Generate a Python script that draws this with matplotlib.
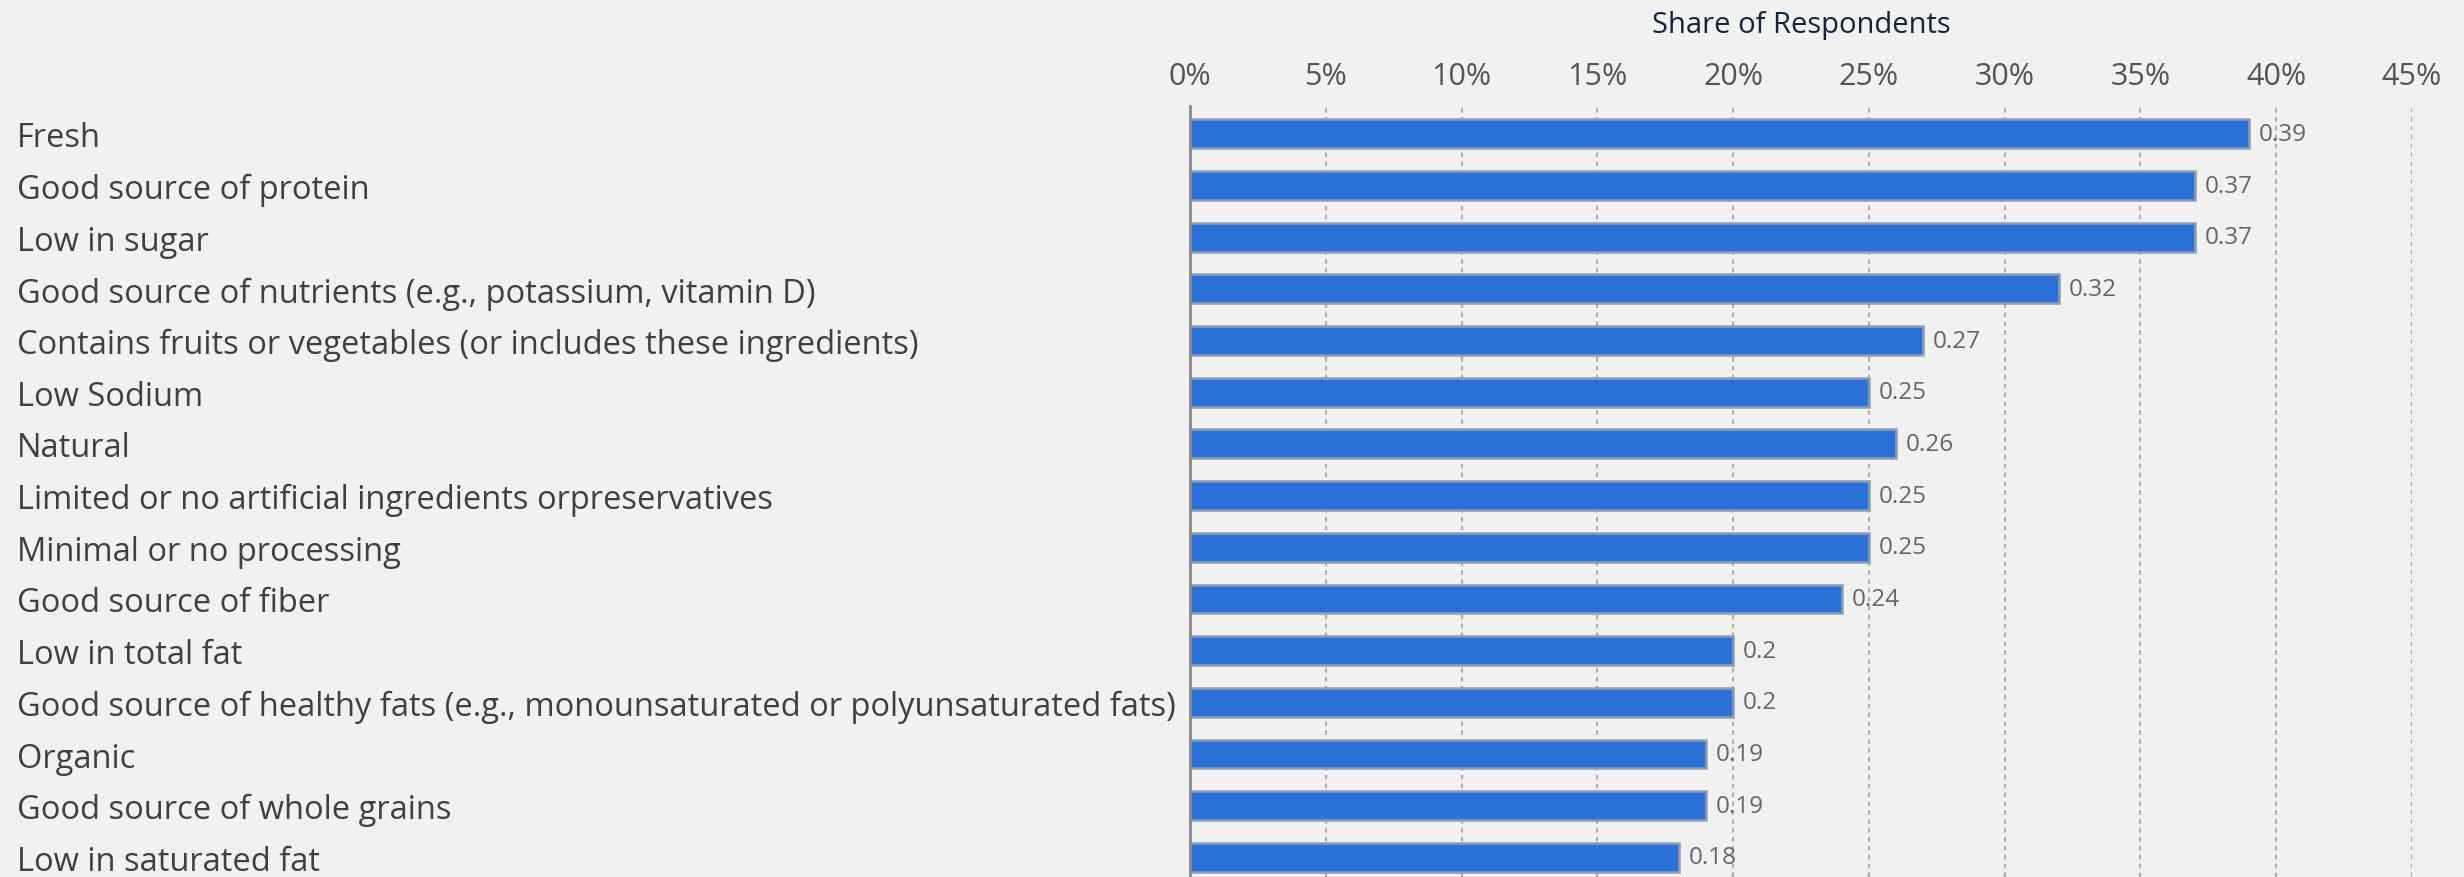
import matplotlib.pyplot as plt

categories = [
    "Fresh",
    "Good source of protein",
    "Low in sugar",
    "Good source of nutrients (e.g., potassium, vitamin D)",
    "Contains fruits or vegetables (or includes these ingredients)",
    "Low Sodium",
    "Natural",
    "Limited or no artificial ingredients orpreservatives",
    "Minimal or no processing",
    "Good source of fiber",
    "Low in total fat",
    "Good source of healthy fats (e.g., monounsaturated or polyunsaturated fats)",
    "Organic",
    "Good source of whole grains",
    "Low in saturated fat",
]
shares = [0.39, 0.37, 0.37, 0.32, 0.27, 0.25, 0.26, 0.25, 0.25, 0.24,
          0.2, 0.2, 0.19, 0.19, 0.18]
value_labels = ["0.39", "0.37", "0.37", "0.32", "0.27", "0.25", "0.26", "0.25",
                "0.25", "0.24", "0.2", "0.2", "0.19", "0.19", "0.18"]
xticks = [0, 0.05, 0.10, 0.15, 0.20, 0.25, 0.30, 0.35, 0.40, 0.45]
xtick_labels = ["0%", "5%", "10%", "15%", "20%", "25%", "30%", "35%", "40%", "45%"]

plt.rcParams["font.family"] = ["Open Sans", "DejaVu Sans"]
bg = "#f1f1f1"

W, H, DPI = 2464, 878, 100
fig = plt.figure(figsize=(W / DPI, H / DPI), dpi=DPI, facecolor=bg)
left_px, right_px, top_px = 1190, 2412, 107
ax = fig.add_axes([left_px / W, 0, (right_px - left_px) / W, 1 - top_px / H])
ax.set_facecolor(bg)

ypos = list(range(len(categories)))
ax.barh(ypos, shares, height=0.56, color="#2a72d9", edgecolor="#8d9db3",
        linewidth=1.8, zorder=3)

for y, v, lab in zip(ypos, shares, value_labels):
    ax.annotate(lab, (v, y), xytext=(7, 0), textcoords="offset points",
                va="center", ha="left", fontsize=17.5, color="#666666", zorder=4)

ax.set_xlim(0, 0.45)
ax.set_ylim(14.38, -0.54)

ax.xaxis.tick_top()
ax.set_xticks(xticks)
ax.set_xticklabels(xtick_labels, fontsize=22, color="#555555")
ax.tick_params(axis="x", length=0, pad=11)

ax.set_yticks(ypos)
ax.set_yticklabels(categories, fontsize=23.5, color="#404040", ha="left")
pad_pt = (left_px - 17) * 72 / DPI
ax.tick_params(axis="y", length=0, pad=pad_pt)

ax.xaxis.set_label_position("top")
ax.set_xlabel("Share of Respondents", fontsize=21, color="#10243f", labelpad=21)

ax.grid(axis="x", color="#b0b0b0", linestyle=(0, (2, 2)), linewidth=1.6, zorder=0)
ax.grid(axis="y", visible=False)
for s in ["top", "right", "bottom"]:
    ax.spines[s].set_visible(False)
ax.spines["left"].set_color("#8a8a8a")
ax.spines["left"].set_linewidth(2)
ax.spines["left"].set_zorder(5)

fig.savefig("out.png", dpi=DPI, facecolor=bg)
